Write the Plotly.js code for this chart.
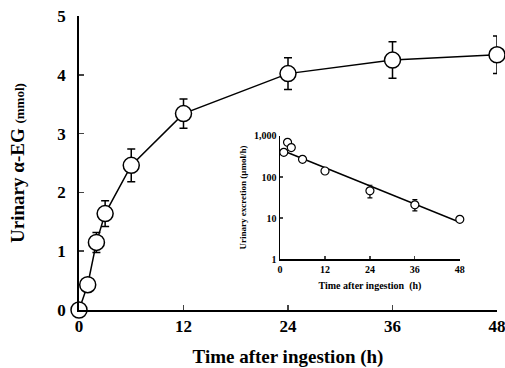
<!DOCTYPE html>
<html><head><meta charset="utf-8">
<script src="https://cdn.plot.ly/plotly-3.0.1.min.js"></script>
<style>html,body{margin:0;padding:0;background:#fff}#c{width:505px;height:368px}</style>
</head><body><div id="c"></div>
<script>
// Main chart: cumulative urinary alpha-EG (mmol)
const timeMain = [0, 1, 2, 3, 6, 12, 24, 36, 48];
const cumEG = [0, 0.43, 1.15, 1.64, 2.46, 3.34, 4.02, 4.25, 4.34];
const cumErr = [0, 0.05, 0.17, 0.22, 0.28, 0.25, 0.27, 0.31, 0.32];
const mainXTicks = [0, 12, 24, 36, 48];
const mainYTicks = [0, 1, 2, 3, 4, 5];

// Inset: urinary excretion rate (umol/h), log scale
const timeInset = [1, 2, 3, 6, 12, 24, 36, 48];
const rateVals = [400, 700, 520, 270, 140, 46, 21, 9.3];
const rateErrUp = [40, 60, 90, 20, 20, 17, 7, 0.8];
const rateErrDown = [60, 80, 70, 20, 15, 15, 6, 0.8];
const fitTime = [0.5, 48];
const fitRate = [450, 7.9];
const insetXTicks = [0, 12, 24, 36, 48];
const insetYTicks = [1, 10, 100, 1000];
const insetYLabels = ['1', '10', '100', '1,000'];

const serif = 'Liberation Serif, Times New Roman, serif';

const traces = [
  {x: timeMain, y: cumEG, type: 'scatter', mode: 'lines+markers',
   line: {color: '#000', width: 1.5},
   marker: {symbol: 'circle', size: 16, color: '#fff', line: {color: '#000', width: 1.5}},
   error_y: {type: 'data', array: cumErr, visible: true, color: '#000', thickness: 1.5, width: 4},
   cliponaxis: false, xaxis: 'x', yaxis: 'y', showlegend: false, hoverinfo: 'skip'},
  {x: fitTime, y: fitRate, type: 'scatter', mode: 'lines',
   line: {color: '#000', width: 1.5}, xaxis: 'x2', yaxis: 'y2', showlegend: false, hoverinfo: 'skip'},
  {x: timeInset, y: rateVals, type: 'scatter', mode: 'markers',
   marker: {symbol: 'circle', size: 8, color: '#fff', line: {color: '#000', width: 1.2}},
   error_y: {type: 'data', symmetric: false, array: rateErrUp, arrayminus: rateErrDown, visible: true, color: '#000', thickness: 1.2, width: 2.5},
   cliponaxis: false, xaxis: 'x2', yaxis: 'y2', showlegend: false, hoverinfo: 'skip'}
];

const layout = {
  width: 505, height: 368,
  margin: {l: 79, r: 8, t: 16, b: 58},
  paper_bgcolor: '#fff', plot_bgcolor: 'rgba(0,0,0,0)',
  font: {family: serif, color: '#000'},
  xaxis: {domain: [0, 1], range: [0, 48], tickvals: mainXTicks, ticks: 'inside', ticklen: 5, tickwidth: 1.5,
    showline: true, linewidth: 1.8, linecolor: '#000', showgrid: false, zeroline: false,
    ticklabeloverflow: 'allow',
    tickfont: {family: serif, size: 17, weight: 'bold'},
    title: {text: 'Time after ingestion (h)', font: {family: serif, size: 19, weight: 'bold'}, standoff: 14}},
  yaxis: {domain: [0, 1], range: [0, 5], tickvals: mainYTicks, ticks: 'inside', ticklen: 5, tickwidth: 1.5,
    showline: true, linewidth: 1.8, linecolor: '#000', showgrid: false, zeroline: false,
    ticklabelstandoff: 8, ticklabeloverflow: 'allow',
    tickfont: {family: serif, size: 17, weight: 'bold'},
    title: {text: "Urinary α-EG <span style='font-size:13px'>(mmol)</span>", font: {family: serif, size: 19, weight: 'bold'}, standoff: 28}},
  xaxis2: {domain: [0.481, 0.911], anchor: 'y2', range: [0, 48], tickvals: insetXTicks, ticks: 'inside', ticklen: 3, tickwidth: 1.2,
    showline: true, linewidth: 1.5, linecolor: '#000', showgrid: false, zeroline: false,
    tickfont: {family: serif, size: 10, weight: 'bold'},
    title: {text: 'Time after ingestion  (h)', font: {family: serif, size: 10, weight: 'bold'}, standoff: 8}},
  yaxis2: {domain: [0.173, 0.592], anchor: 'x2', type: 'log', range: [0, 3], tickvals: insetYTicks, ticktext: insetYLabels,
    ticks: 'inside', ticklen: 3, tickwidth: 1.2,
    showline: true, linewidth: 1.5, linecolor: '#000', showgrid: false, zeroline: false,
    tickfont: {family: serif, size: 10, weight: 'bold'},
    title: {text: 'Urinary excretion (μmol/h)', font: {family: serif, size: 9, weight: 'bold'}, standoff: 6}}
};

Plotly.newPlot('c', traces, layout, {staticPlot: true, displayModeBar: false});
</script></body></html>
